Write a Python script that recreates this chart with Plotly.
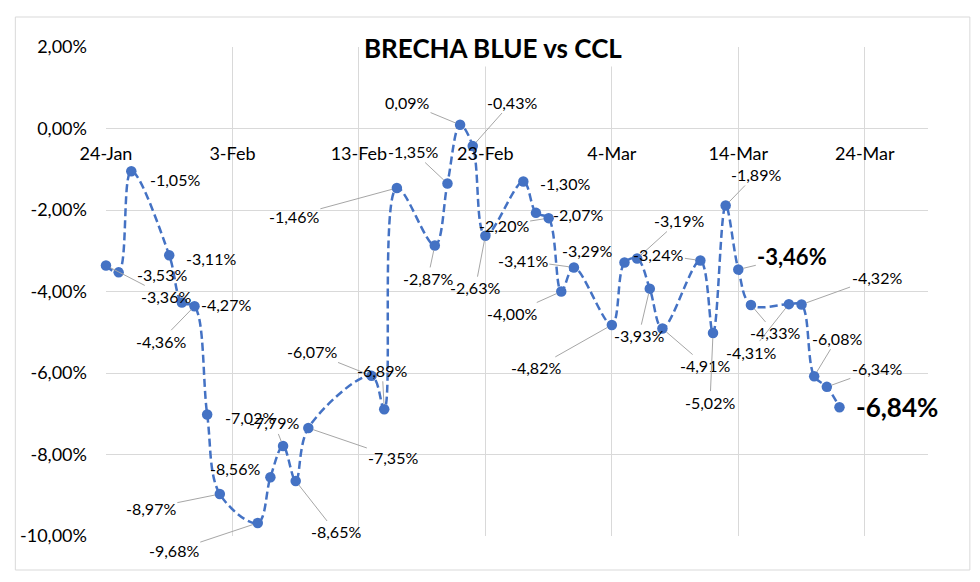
import plotly.graph_objects as go

# ---- data ----
DATES = ["2024-01-24", "2024-01-25", "2024-01-26", "2024-01-29", "2024-01-30", "2024-01-31",
         "2024-02-01", "2024-02-02", "2024-02-05", "2024-02-06", "2024-02-07", "2024-02-08", "2024-02-09",
         "2024-02-14", "2024-02-15", "2024-02-16", "2024-02-19", "2024-02-20", "2024-02-21", "2024-02-22",
         "2024-02-23", "2024-02-26", "2024-02-27", "2024-02-28", "2024-02-29",
         "2024-03-01", "2024-03-04", "2024-03-05", "2024-03-06", "2024-03-07", "2024-03-08", "2024-03-11",
         "2024-03-12", "2024-03-13", "2024-03-14", "2024-03-15", "2024-03-18", "2024-03-19", "2024-03-20",
         "2024-03-21", "2024-03-22"]
BRECHA = [-3.36, -3.53, -1.05, -3.11, -4.27, -4.36,
          -7.02, -8.97, -9.68, -8.56, -7.79, -8.65, -7.35,
          -6.07, -6.89, -1.46, -2.87, -1.35, 0.09, -0.43,
          -2.63, -1.30, -2.07, -2.20, -4.00,
          -3.41, -4.82, -3.29, -3.19, -3.93, -4.91, -3.24,
          -5.02, -1.89, -3.46, -4.33, -4.31, -4.32, -6.08,
          -6.34, -6.84]
X_TICKS = ["2024-01-24", "2024-02-03", "2024-02-13", "2024-02-23", "2024-03-04", "2024-03-14", "2024-03-24"]
X_TICK_TEXT = ["24-Jan", "3-Feb", "13-Feb", "23-Feb", "4-Mar", "14-Mar", "24-Mar"]
Y_TICKS = [2, 0, -2, -4, -6, -8, -10]
Y_TICK_TEXT = ["2,00%", "0,00%", "-2,00%", "-4,00%", "-6,00%", "-8,00%", "-10,00%"]
TITLE = "BRECHA BLUE vs CCL"

# ---- label placement (pixel offsets from point to label centre, leader line?) ----
LABEL_POS = [(60, 31, True), (43, 2, False), (44, 8, False), (42, 3, False), (44, 2, False), (-34, 35, True),
             (43, 3, False), (-69, 14, True), (-84, 28, True), (-35, -9, False), (-9, -23, True), (40, 51, True),
             (85, 29, True),
             (-60, -24, True), (-2, -39, True), (-103, 28, True), (-7, 33, True), (-34, -32, True), (-53, -22, True),
             (39, -44, True), (-10, 52, True), (42, 2, False), (42, 2, False), (-45, 7, True), (-49, 22, True),
             (-51, -7, True), (-76, 43, True), (-37, -12, False), (42, -38, True), (-11, 47, True), (43, 37, True),
             (-42, -6, True), (-3, 69, True), (30, -31, True), (54, -13, True), (24, 28, True), (-38, 48, True),
             (75, -27, True), (23, -38, True), (50, -18, True), (58, 0, False)]
BOLD_SIZE = {34: 22, 40: 26}

FONT = "Lato"
BLUE = "#4472C4"
GRID = "#d9d9d9"

# page body adds an 8px offset; lay out in screen pixels then shift
OFF = 8
SW, SH = 980, 582
W, H = SW - OFF, SH - OFF
PL, PR, PT, PB = 103, 928, 47, 536  # plot area in screen pixels
L, T = PL - OFF, PT - OFF
R, B = W - (PR - OFF), H - (PB - OFF)
pw, ph = W - L - R, H - T - B


def px_to_paper_x(sx):
    return (sx - PL) / pw


def px_to_paper_y(sy):
    return (PB - sy) / ph


fig = go.Figure()
fig.add_trace(go.Scatter(
    x=DATES, y=BRECHA, mode="lines+markers",
    line=dict(color=BLUE, width=2.5, dash="8px,4px", shape="spline", smoothing=1),
    marker=dict(color=BLUE, size=10.5),
    cliponaxis=False,
    hoverinfo="skip", showlegend=False,
))


def fmt(v):
    return ("%.2f" % v).replace(".", ",") + "%"


annotations = []
for i, (d, v) in enumerate(zip(DATES, BRECHA)):
    ax, ay, leader = LABEL_POS[i]
    size = BOLD_SIZE.get(i, 16)
    txt = fmt(v)
    if i in BOLD_SIZE:
        txt = "<b>" + txt + "</b>"
    annotations.append(dict(
        x=d, y=v, xref="x", yref="y", text=txt,
        showarrow=True, ax=ax, ay=ay, arrowhead=0, arrowwidth=1,
        arrowcolor="#a6a6a6" if leader else "rgba(0,0,0,0)", standoff=5,
        font=dict(family=FONT, size=size, color="black"),
    ))

annotations.append(dict(
    x=px_to_paper_x(491), y=px_to_paper_y(48), xref="paper", yref="paper",
    text="<b>" + TITLE + "</b>",
    showarrow=False, xanchor="center", yanchor="middle", bgcolor="white", borderpad=2,
    font=dict(family=FONT, size=26, color="black"),
))

fig.update_layout(
    width=W, height=H, autosize=False,
    margin=dict(l=L, r=R, t=T, b=B, pad=0),
    paper_bgcolor="white", plot_bgcolor="white",
    font=dict(family=FONT, color="black"),
    annotations=annotations,
    shapes=[dict(type="rect", xref="paper", yref="paper",
                 x0=px_to_paper_x(12), x1=px_to_paper_x(970),
                 y0=px_to_paper_y(570), y1=px_to_paper_y(17),
                 line=dict(color=GRID, width=1), fillcolor="rgba(0,0,0,0)", layer="below")],
    xaxis=dict(
        type="date", range=["2024-01-24", "2024-03-29"],
        tickvals=X_TICKS, ticktext=X_TICK_TEXT,
        showgrid=True, gridcolor=GRID, gridwidth=1,
        zeroline=False, showline=False, ticks="",
        anchor="free", position=10 / 12, side="bottom",
        ticklabelstandoff=12,
        tickfont=dict(family=FONT, size=18, color="black"),
    ),
    yaxis=dict(
        range=[-10, 2], tickvals=Y_TICKS, ticktext=Y_TICK_TEXT,
        showgrid=True, gridcolor=GRID, gridwidth=1,
        zeroline=False, showline=False, ticks="",
        ticklabelstandoff=18,
        tickfont=dict(family=FONT, size=18, color="black"),
    ),
)

fig.write_html("out.html")
